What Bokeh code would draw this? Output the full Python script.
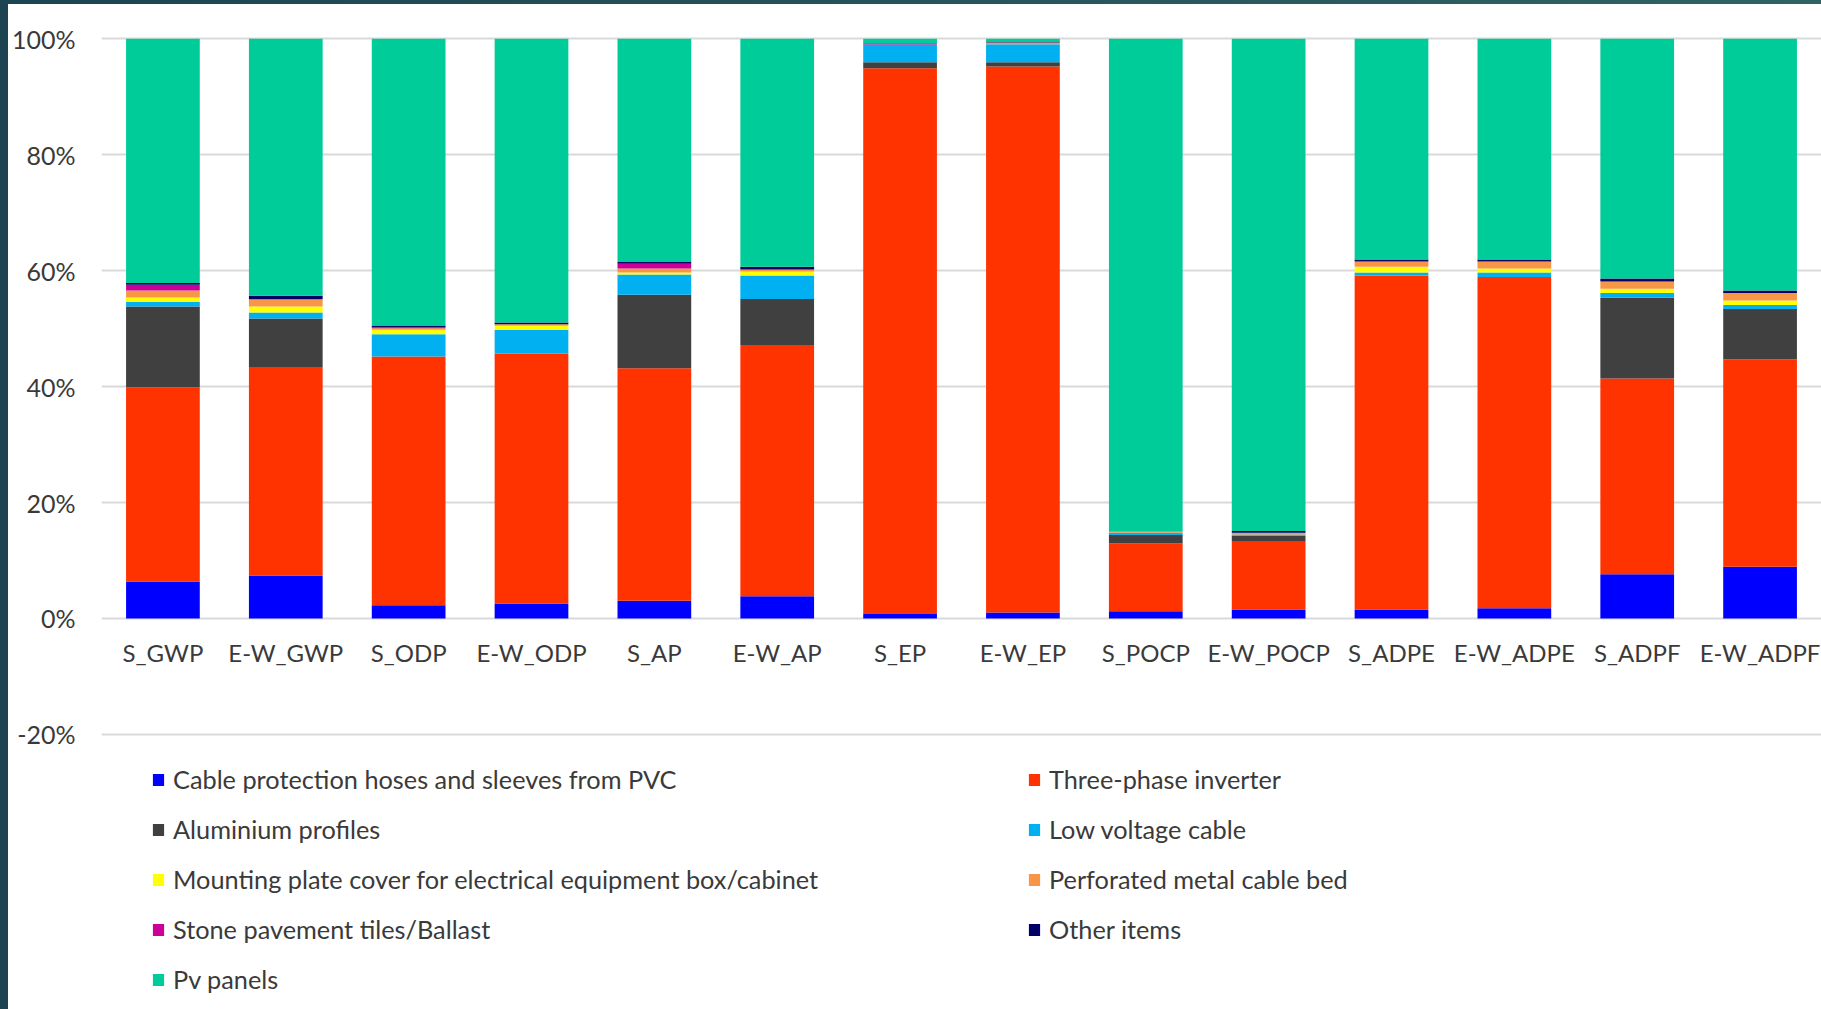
from bokeh.plotting import figure
from bokeh.models import (ColumnDataSource, FixedTicker, PrintfTickFormatter, Legend,
                          LegendItem, Div, Range1d)
from bokeh.layouts import column, row
from bokeh.core.properties import value
from bokeh.embed import file_html
from bokeh.resources import INLINE

# ---------------- data (percent of total impact) ----------------
categories = ["S_GWP", "E-W_GWP", "S_ODP", "E-W_ODP", "S_AP", "E-W_AP", "S_EP", "E-W_EP",
              "S_POCP", "E-W_POCP", "S_ADPE", "E-W_ADPE", "S_ADPF", "E-W_ADPF"]

cable_pvc   = [6.39, 7.43, 2.30, 2.59, 3.04, 3.85, 0.79, 1.04, 1.26, 1.55, 1.55, 1.78, 7.65, 8.91]
inverter    = [33.51, 35.97, 42.88, 43.11, 40.14, 43.35, 94.13, 94.18, 11.69, 11.68, 57.62, 57.11, 33.73, 35.82]
aluminium   = [13.92, 8.34, 0.00, 0.00, 12.66, 7.90, 1.04, 0.74, 1.44, 1.04, 0.00, 0.00, 13.94, 8.64]
lv_cable    = [0.81, 1.04, 3.87, 4.09, 3.50, 4.07, 3.06, 3.11, 0.39, 0.24, 0.52, 0.80, 0.81, 0.69]
mount_plate = [0.74, 1.04, 0.74, 0.69, 0.35, 0.69, 0.00, 0.00, 0.00, 0.00, 0.98, 0.69, 0.74, 0.79]
cable_bed   = [1.21, 1.27, 0.30, 0.30, 0.69, 0.35, 0.00, 0.29, 0.18, 0.27, 0.92, 1.21, 1.26, 1.28]
stone_tiles = [0.98, 0.00, 0.17, 0.00, 0.81, 0.00, 0.22, 0.00, 0.00, 0.00, 0.00, 0.00, 0.00, 0.00]
other_items = [0.30, 0.57, 0.28, 0.27, 0.30, 0.46, 0.00, 0.17, 0.00, 0.30, 0.34, 0.34, 0.52, 0.45]
pv_panels   = [42.14, 44.34, 49.46, 48.95, 38.51, 39.33, 0.76, 0.47, 85.04, 84.92, 38.07, 38.07, 41.35, 43.42]

series_keys = ["cable_pvc", "inverter", "aluminium", "lv_cable", "mount_plate",
               "cable_bed", "stone_tiles", "other_items", "pv_panels"]
series_labels = ["Cable protection hoses and sleeves from PVC", "Three-phase inverter",
                 "Aluminium profiles", "Low voltage cable",
                 "Mounting plate cover for electrical equipment box/cabinet",
                 "Perforated metal cable bed", "Stone pavement tiles/Ballast",
                 "Other items", "Pv panels"]
series_colors = ["#0000FF", "#FF3300", "#404040", "#00B0F0", "#FFFF00",
                 "#F79646", "#CC0099", "#000066", "#00CC99"]

y_ticks = [-20, 0, 20, 40, 60, 80, 100]

source = ColumnDataSource(dict(cat=categories, cable_pvc=cable_pvc, inverter=inverter,
                               aluminium=aluminium, lv_cable=lv_cable,
                               mount_plate=mount_plate, cable_bed=cable_bed,
                               stone_tiles=stone_tiles, other_items=other_items,
                               pv_panels=pv_panels))

FONT = "Lato"
TXT = "#3a3a3a"

p = figure(x_range=categories, y_range=Range1d(-67.45, 100.57),
           width=1813, height=1005, output_backend="svg", toolbar_location=None,
           x_axis_location=None, min_border_left=92, min_border_right=0,
           min_border_top=31, min_border_bottom=0, outline_line_color=None,
           background_fill_color="white", border_fill_color="white")

renderers = p.vbar_stack(series_keys, x="cat", width=0.6, color=series_colors,
                         line_width=0, source=source)

# y axis
p.yaxis.ticker = FixedTicker(ticks=y_ticks)
p.yaxis.formatter = PrintfTickFormatter(format="%d%%")
p.yaxis.axis_line_color = None
p.yaxis.major_tick_line_color = None
p.yaxis.minor_tick_line_color = None
p.yaxis.major_tick_out = 0
p.yaxis.major_tick_in = 0
p.yaxis.major_label_standoff = 26
p.yaxis.major_label_text_font = FONT
p.yaxis.major_label_text_font_size = "25px"
p.yaxis.major_label_text_color = TXT

p.xgrid.visible = False
p.ygrid.grid_line_color = "#d9d9d9"
p.ygrid.grid_line_width = 2

# category labels under the zero line
p.text(x=categories, y=0, text=categories, text_align="center", text_baseline="middle",
       y_offset=34, text_font=value(FONT), text_font_size="24px", text_color=TXT)

# legends: two columns
def make_legend(idx, x, y):
    items = [LegendItem(label=series_labels[i], renderers=[renderers[i]]) for i in idx]
    lg = Legend(items=items, location=(x, y), orientation="vertical",
                glyph_width=14, glyph_height=15, label_height=15, label_standoff=8,
                spacing=20, padding=0, margin=0, border_line_color=None,
                background_fill_alpha=0, label_text_font=FONT,
                label_text_font_size="25.3px", label_text_color=TXT)
    p.add_layout(lg, "center")
    return lg

make_legend([0, 2, 4, 6, 8], 50, 15)
make_legend([1, 3, 5, 7], 926, 65)

top_strip = Div(text="", width=1821, height=4, margin=0,
                styles={"background": "linear-gradient(90deg, #1c4452, #2f6363)"})
left_strip = Div(text="", width=8, height=1005, margin=0,
                 styles={"background": "#1b4351"})

layout = column(top_strip, row(left_strip, p, spacing=0), spacing=0)

open("out.html", "w").write(file_html(layout, INLINE))
